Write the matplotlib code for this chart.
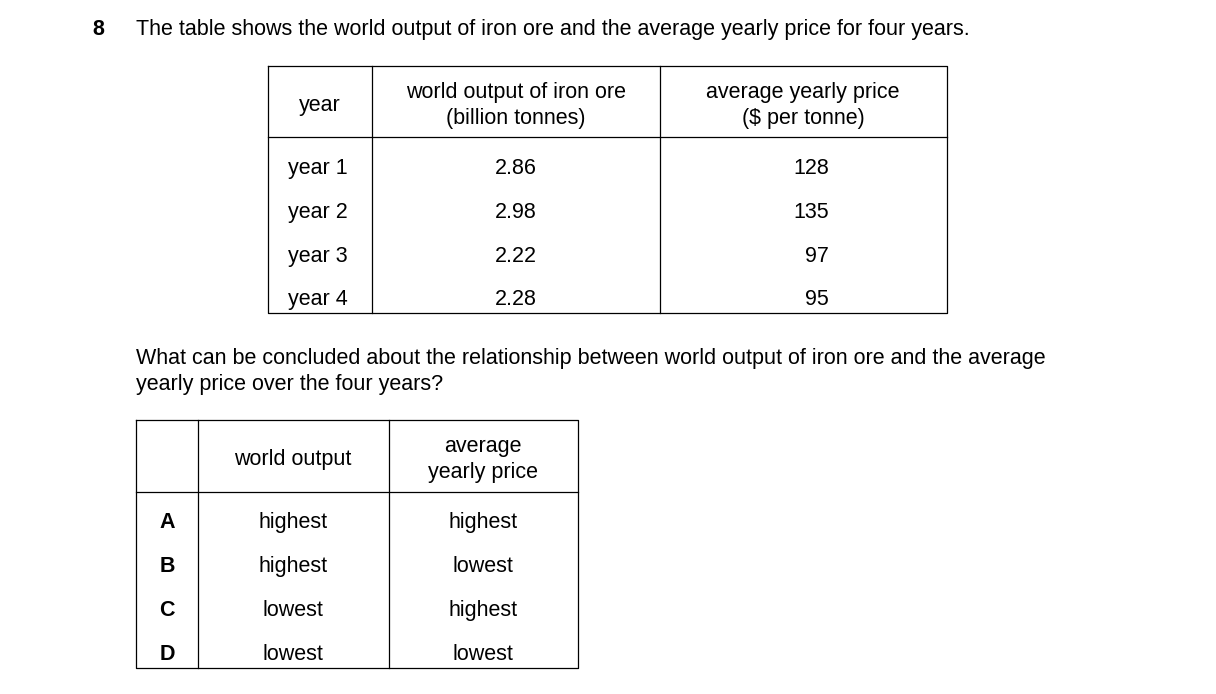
import matplotlib
matplotlib.use("Agg")
import matplotlib.pyplot as plt

plt.rcParams['font.family'] = ['Liberation Sans', 'DejaVu Sans']

# data
question_no = "8"
intro = "The table shows the world output of iron ore and the average yearly price for four years."
years = ["year 1", "year 2", "year 3", "year 4"]
output = ["2.86", "2.98", "2.22", "2.28"]
price = ["128", "135", "97", "95"]
header_year = "year"
header_output = ["world output of iron ore", "(billion tonnes)"]
header_price = ["average yearly price", "($ per tonne)"]
question = ["What can be concluded about the relationship between world output of iron ore and the average",
            "yearly price over the four years?"]
letters = ["A", "B", "C", "D"]
opt_output = ["highest", "highest", "lowest", "lowest"]
opt_price = ["highest", "lowest", "highest", "lowest"]
header_wo = "world output"
header_ayp = ["average", "yearly price"]

fig = plt.figure(figsize=(12.16, 6.94), dpi=100)
ax = fig.add_axes([0, 0, 1, 1])
ax.set_xlim(0, 1216)
ax.set_ylim(694, 0)
ax.axis("off")

fs = 15.5
lw = 0.9


def txt(x, y, s, ha="center", bold=False):
    ax.text(x, y, s, fontsize=fs, ha=ha, va="center_baseline",
            fontweight="bold" if bold else "normal")


def box(x0, x1, y0, y1, cols, hsep):
    ax.plot([x0, x1, x1, x0, x0], [y0, y0, y1, y1, y0], color="black", lw=lw)
    for c in cols:
        ax.plot([c, c], [y0, y1], color="black", lw=lw)
    ax.plot([x0, x1], [hsep, hsep], color="black", lw=lw)


txt(92, 27, question_no, ha="left", bold=True)
txt(136, 27, intro, ha="left")

# table 1
box(268, 947, 66, 313, [372, 660], 137)
txt(320, 103, header_year)
for i, (a, b) in enumerate(zip(header_output, header_price)):
    txt(516, 90 + 26 * i, a)
    txt(803, 90 + 26 * i, b)
row_y = [166, 210, 254, 297]
for y, yr, o, p in zip(row_y, years, output, price):
    txt(288, y, yr, ha="left")
    txt(516, y, o)
    txt(829, y, p, ha="right")

for i, line in enumerate(question):
    txt(136, 356 + 26 * i, line, ha="left")

# table 2
box(136, 578, 420, 668, [198, 389], 492)
txt(293, 457, header_wo)
for i, line in enumerate(header_ayp):
    txt(483, 444 + 26 * i, line)
row_y2 = [520, 564, 608, 652]
for y, l, o, p in zip(row_y2, letters, opt_output, opt_price):
    txt(167, y, l, bold=True)
    txt(293, y, o)
    txt(483, y, p)

fig.savefig("out.png", dpi=100)
